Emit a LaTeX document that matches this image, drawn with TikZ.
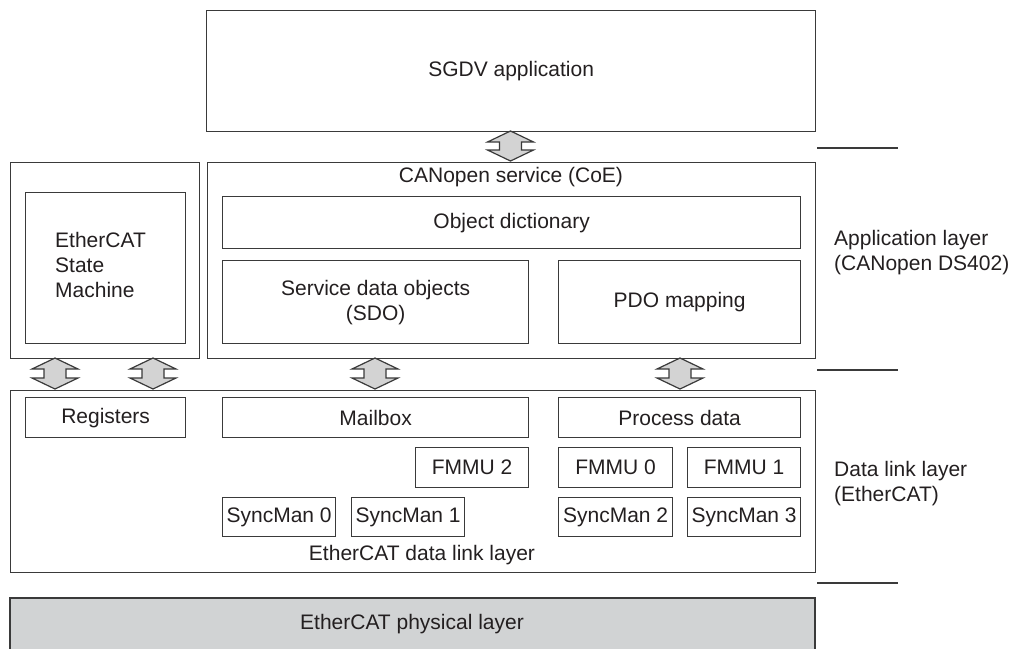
\documentclass[tikz,border=0pt]{standalone}
\usepackage{fontspec}
\setmainfont{Liberation Sans}
\usetikzlibrary{calc}
\definecolor{lc}{HTML}{3A3A3A}
\definecolor{tc}{HTML}{231F20}
\definecolor{af}{HTML}{D3D3D3}
\definecolor{pf}{HTML}{D1D3D4}
\tikzset{
  box/.style={draw=lc, line width=1.3pt, rectangle, anchor=north west, inner sep=0pt,
    text=tc, font=\fontsize{21}{25}\selectfont, align=center},
  lbl/.style={text=tc, font=\fontsize{21}{25}\selectfont, inner sep=0pt},
  arr/.style={draw=lc, line width=1.2pt, fill=af, line join=miter},
  sep/.style={draw=lc, line width=1.3pt}
}
\newcommand{\dbarr}[2]{%
  \draw[arr] (#1) -- ++(23,11) -- ++(-12,0) -- ($(#2)+(11,-11)$) -- ++(12,0) -- (#2)
    -- ++(-23,-11) -- ++(12,0) -- ($(#1)+(-11,11)$) -- ++(-12,0) -- cycle;}
\begin{document}
\begin{tikzpicture}[x=1pt,y=-1pt]
\useasboundingbox (0,0) rectangle (1012,648);
% top
\node[box, minimum width=609, minimum height=121] (sgdv) at (206,10) {SGDV application};
% application layer
\node[box, minimum width=189, minimum height=196] (esmo) at (10,162) {};
\node[box, minimum width=160, minimum height=151] (esm) at (25,192) {};
\node[lbl, anchor=west, align=left] (esmt) at (55,265) {EtherCAT\\State\\Machine};
\node[box, minimum width=608, minimum height=196] (coe) at (207,162) {};
\node[lbl] (coet) at (511,177) {CANopen service (CoE)};
\node[box, minimum width=578, minimum height=52] (od) at (222,196) {Object dictionary};
\node[box, minimum width=306, minimum height=83] (sdo) at (222,260) {Service data objects\\(SDO)};
\node[box, minimum width=242, minimum height=83] (pdo) at (558,260) {PDO mapping};
% data link layer
\node[box, minimum width=805, minimum height=182] (dl) at (10,390) {};
\node[box, minimum width=160, minimum height=40] (reg) at (25,397) {Registers};
\node[box, minimum width=306, minimum height=40] (mbx) at (222,397) {Mailbox};
\node[box, minimum width=242, minimum height=40] (pd) at (558,397) {Process data};
\node[box, minimum width=113, minimum height=40] (f2) at (415,447) {FMMU 2};
\node[box, minimum width=114, minimum height=40] (f0) at (558,447) {FMMU 0};
\node[box, minimum width=113, minimum height=40] (f1) at (687,447) {FMMU 1};
\node[box, minimum width=113, minimum height=39] (s0) at (222,497) {SyncMan 0};
\node[box, minimum width=113, minimum height=39] (s1) at (351,497) {SyncMan 1};
\node[box, minimum width=114, minimum height=39] (s2) at (558,497) {SyncMan 2};
\node[box, minimum width=113, minimum height=39] (s3) at (687,497) {SyncMan 3};
\node[lbl] (dlt) at (422,555) {EtherCAT data link layer};
% physical
\fill[pf] (10,598) rectangle (815,660);
\draw[sep] (10,660) -- (10,598) -- (815,598) -- (815,660);
\node[lbl] (phy) at (412,624) {EtherCAT physical layer};
% arrows
\coordinate (a0t) at (510.5,131); \coordinate (a0b) at (510.5,161);
\coordinate (a1t) at (55,358); \coordinate (a1b) at (55,389);
\coordinate (a2t) at (153,358); \coordinate (a2b) at (153,389);
\coordinate (a3t) at (375,358); \coordinate (a3b) at (375,389);
\coordinate (a4t) at (680,358); \coordinate (a4b) at (680,389);
\dbarr{a0t}{a0b}
\dbarr{a1t}{a1b}
\dbarr{a2t}{a2b}
\dbarr{a3t}{a3b}
\dbarr{a4t}{a4b}
% separators and layer labels
\coordinate (l1a) at (817,148); \coordinate (l1b) at (898,148);
\coordinate (l2a) at (817,370); \coordinate (l2b) at (898,370);
\coordinate (l3a) at (817,583); \coordinate (l3b) at (898,583);
\draw[sep] (l1a) -- (l1b);
\draw[sep] (l2a) -- (l2b);
\draw[sep] (l3a) -- (l3b);
\node[lbl, anchor=west, align=left] (appl) at (834,253) {Application layer\\(CANopen DS402)};
\node[lbl, anchor=west, align=left] (dll) at (834,484) {Data link layer\\(EtherCAT)};
\end{tikzpicture}
\end{document}
